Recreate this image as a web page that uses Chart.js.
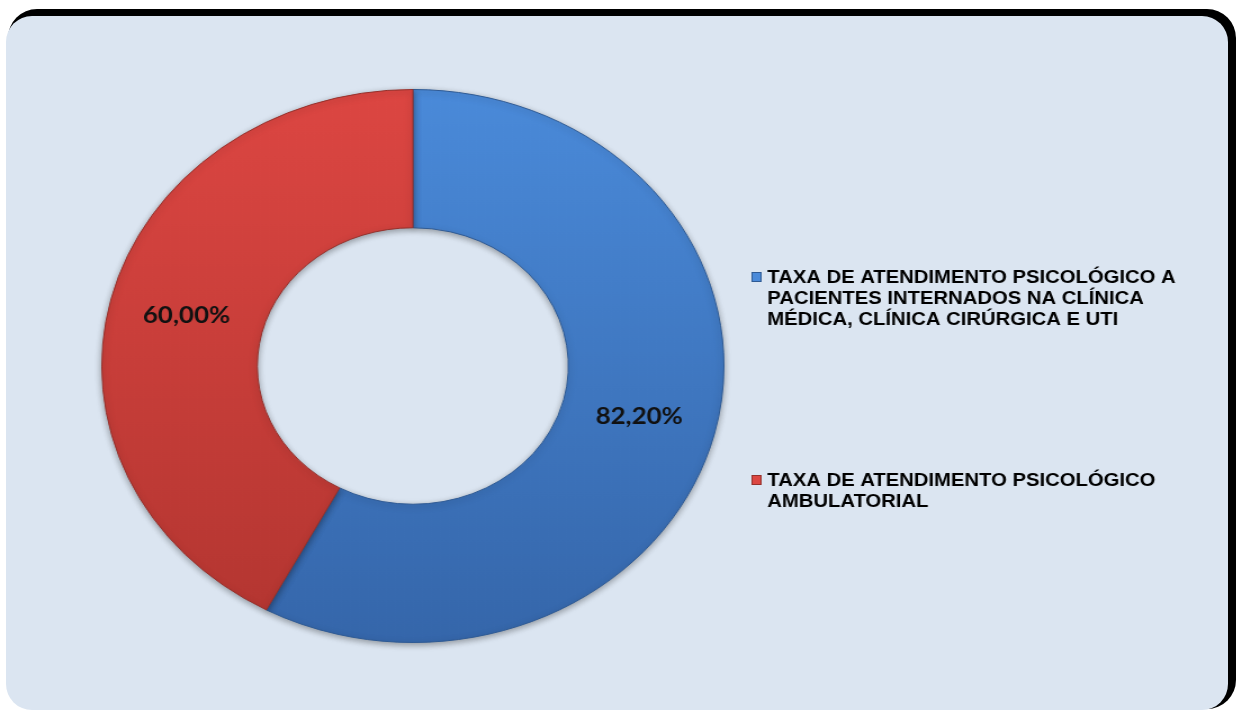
<!DOCTYPE html>
<html>
<head>
<meta charset="utf-8">
<script src="https://cdn.jsdelivr.net/npm/chart.js@4"></script>
<style>
  html, body { margin: 0; padding: 0; background: #fff; }
  body { width: 1237px; height: 715px; position: relative; overflow: hidden; }
  #painel {
    position: absolute; left: 6px; top: 16px; width: 1222px; height: 694px;
    background: #dbe5f1; border-radius: 26px;
    box-shadow: 5px -4px 0 3px #000;
  }
  #grafico {
    position: absolute; left: 0; top: 0;
    transform: scaleX(1.125); transform-origin: 0 0;
  }
</style>
</head>
<body>
<div id="painel"></div>
<canvas id="grafico" width="1100" height="715"></canvas>
<script>
const categorias = [
  ['TAXA DE ATENDIMENTO PSICOLÓGICO A', 'PACIENTES INTERNADOS NA CLÍNICA', 'MÉDICA, CLÍNICA CIRÚRGICA E UTI'],
  ['TAXA DE ATENDIMENTO PSICOLÓGICO', 'AMBULATORIAL']
];
const valores = [82.20, 60.00];
const rotulos = ['82,20%', '60,00%'];

const coresTopo = ['#4a8ad9', '#dc4642'];
const coresBase = ['#3566aa', '#b23530'];
const coresBorda = ['#2e5a94', '#95302b'];

const canvas = document.getElementById('grafico');
const ctx = canvas.getContext('2d');

// gradiente vertical em cada fatia
function gradiente(i) {
  const g = ctx.createLinearGradient(0, 90, 0, 645);
  g.addColorStop(0, coresTopo[i]);
  g.addColorStop(1, coresBase[i]);
  return g;
}

// sombra suave em volta do anel
const sombra = {
  id: 'sombra',
  beforeDatasetsDraw(chart) {
    chart.ctx.save();
    chart.ctx.shadowColor = 'rgba(0, 0, 0, 0.35)';
    chart.ctx.shadowBlur = 6;
    chart.ctx.shadowOffsetY = 2;
  },
  afterDatasetsDraw(chart) {
    chart.ctx.restore();
  }
};

// valores no meio de cada fatia
const rotulosFatias = {
  id: 'rotulosFatias',
  afterDatasetsDraw(chart) {
    const c = chart.ctx;
    c.save();
    c.font = 'bold 23px Lato, "Open Sans", sans-serif';
    c.fillStyle = '#111';
    c.textAlign = 'center';
    c.textBaseline = 'middle';
    chart.getDatasetMeta(0).data.forEach((arc, i) => {
      const p = arc.tooltipPosition();
      c.fillText(rotulos[i], p.x, p.y);
    });
    c.restore();
  }
};

// legenda à direita, com várias linhas por item
const legenda = {
  id: 'legenda',
  afterDraw(chart) {
    const c = chart.ctx;
    const x = 668;
    const topos = [277, 480];
    c.save();
    c.font = 'bold 18px "Liberation Sans", Arial, sans-serif';
    c.textBaseline = 'middle';
    categorias.forEach((linhas, i) => {
      const y0 = topos[i];
      c.fillStyle = coresTopo[i];
      c.fillRect(x, y0 - 5, 9, 10);
      c.strokeStyle = coresBorda[i];
      c.lineWidth = 1;
      c.strokeRect(x + 0.5, y0 - 4.5, 8, 9);
      c.fillStyle = '#000';
      linhas.forEach((t, j) => c.fillText(t, x + 14, y0 + 1 + j * 21));
    });
    c.restore();
  }
};

new Chart(ctx, {
  type: 'doughnut',
  data: {
    labels: categorias.map(l => l.join(' ')),
    datasets: [{
      data: valores,
      backgroundColor: (c) => gradiente(c.dataIndex),
      borderColor: coresBorda,
      borderWidth: 1,
      hoverOffset: 0
    }]
  },
  options: {
    responsive: false,
    devicePixelRatio: 1,
    animation: false,
    cutout: '50%',
    layout: { padding: { left: 90, right: 456, top: 89, bottom: 72 } },
    plugins: {
      legend: { display: false },
      tooltip: { enabled: false }
    }
  },
  plugins: [sombra, rotulosFatias, legenda]
});
</script>
</body>
</html>
